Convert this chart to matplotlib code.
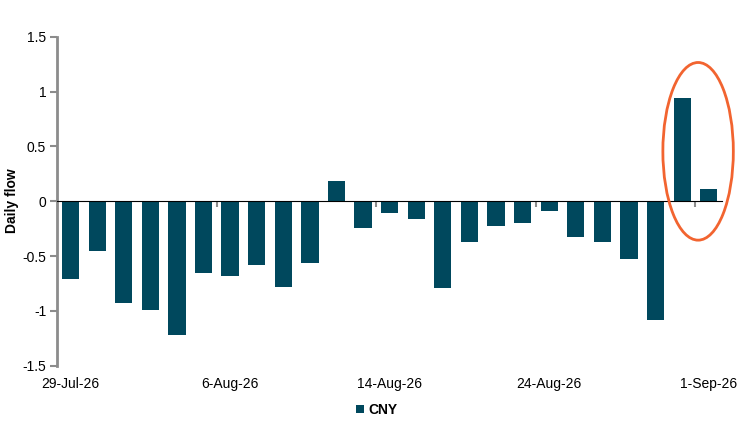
import matplotlib
matplotlib.use("Agg")
import matplotlib.pyplot as plt
from matplotlib.patches import Ellipse
import numpy as np

plt.rcParams['font.family'] = ['Liberation Sans', 'DejaVu Sans']

dates = ["29-Jul-26", "30-Jul-26", "31-Jul-26", "3-Aug-26", "4-Aug-26", "5-Aug-26",
         "6-Aug-26", "7-Aug-26", "10-Aug-26", "11-Aug-26", "12-Aug-26", "13-Aug-26",
         "14-Aug-26", "17-Aug-26", "18-Aug-26", "19-Aug-26", "20-Aug-26", "21-Aug-26",
         "24-Aug-26", "25-Aug-26", "26-Aug-26", "27-Aug-26", "28-Aug-26", "31-Aug-26",
         "1-Sep-26"]
cny = [-0.71, -0.45, -0.93, -0.99, -1.22, -0.65, -0.68, -0.58, -0.78, -0.56,
       0.18, -0.24, -0.11, -0.16, -0.79, -0.37, -0.23, -0.20, -0.09, -0.33,
       -0.37, -0.53, -1.08, 0.94, 0.11]
label_idx = [0, 6, 12, 18, 24]
yticks = [-1.5, -1, -0.5, 0, 0.5, 1, 1.5]

bar_color = '#00485D'
axis_gray = '#8C8C8C'

fig = plt.figure(figsize=(7.49, 4.26), dpi=100)
ax = fig.add_axes([0.0765, 0.1415, 0.8875, 0.7723])

x = np.arange(len(dates))
ax.bar(x, cny, width=0.65, color=bar_color, label='CNY', zorder=2)

ax.set_xlim(-0.5, len(dates) - 0.5)
ax.set_ylim(-1.5, 1.5)
ax.set_yticks(yticks)
ax.set_yticklabels([f"{v:g}" for v in yticks])

for s in ['top', 'right', 'bottom']:
    ax.spines[s].set_visible(False)
ax.spines['left'].set_color(axis_gray)
ax.spines['left'].set_linewidth(2)
ax.tick_params(axis='y', direction='out', length=5, width=1.5, color=axis_gray,
               labelsize=10, pad=3, labelcolor='black')

ax.set_xticks([x[i] for i in label_idx])
ax.set_xticklabels([dates[i] for i in label_idx])
ax.tick_params(axis='x', length=0, labelsize=10, pad=8)

# zero axis line with tick marks between categories
sec = ax.secondary_xaxis(0.5)
sec.spines['bottom'].set_color(axis_gray)
sec.spines['bottom'].set_linewidth(2)
sec.set_xticks([i - 0.5 for i in label_idx[1:]])
sec.set_xticklabels([])
sec.tick_params(axis='x', direction='in', length=4, width=1.5, color=axis_gray)
sec.set_zorder(3)

fig.text(12 / 749, 1 - 201 / 426, 'Daily flow', rotation=90, ha='center',
         va='center', fontsize=10, fontweight='bold')

ell = Ellipse((23.6, 0.455), width=2.65, height=1.62, fill=False,
              edgecolor='#F26430', linewidth=2, clip_on=False, zorder=4)
ax.add_patch(ell)

leg = fig.legend(loc='center', bbox_to_anchor=(0.503, 0.038), frameon=False,
                 handlelength=0.6, handleheight=0.6, handletextpad=0.3,
                 prop={'weight': 'bold', 'size': 10})

fig.savefig('out.png', dpi=100)
